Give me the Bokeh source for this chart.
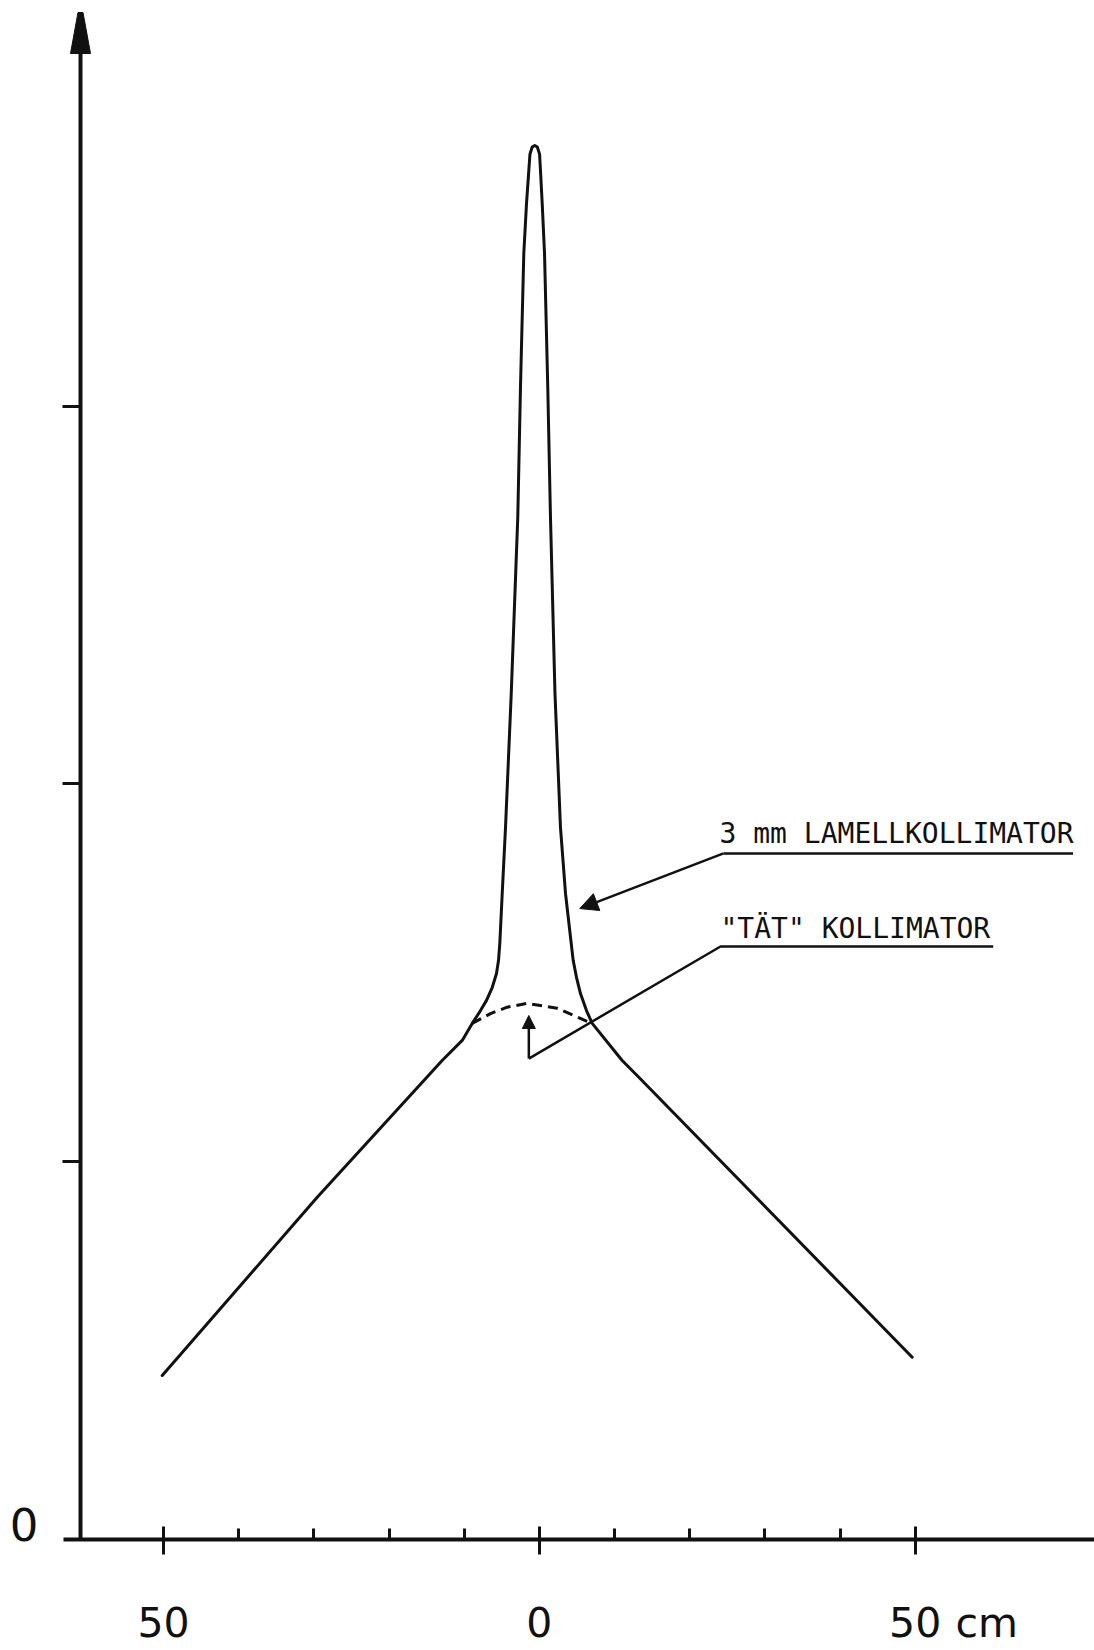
from bokeh.plotting import figure
from bokeh.models import FixedTicker, Label, Arrow, NormalHead, Range1d
from bokeh.embed import file_html
from bokeh.resources import INLINE

# ---- data (x in cm, y in axis units) ----
lamell_x = [-50.17, -29.55, -12.93, -10.26, -8.93, -7.83, -7.03, -6.27, -5.70, -5.43,
            -5.26, -4.94, -4.50, -3.74, -2.87, -2.51, -2.07, -1.71, -1.40, -1.25,
            -0.95, -0.61, -0.27, 0.03, 0.15, 0.38, 0.69, 1.12, 1.48, 2.08,
            2.81, 3.48, 4.50, 4.94, 5.47, 6.27, 7.03, 11.02, 13.46, 49.60]
lamell_y = [0.434, 0.906, 1.268, 1.321, 1.366, 1.400, 1.427, 1.461, 1.498, 1.533,
            1.578, 1.710, 1.885, 2.239, 2.706, 3.050, 3.403, 3.536, 3.624, 3.667,
            3.686, 3.690, 3.686, 3.667, 3.624, 3.536, 3.403, 3.050, 2.706, 2.239,
            1.885, 1.710, 1.533, 1.488, 1.445, 1.400, 1.366, 1.268, 1.219, 0.4825]

tat_x = [-8.93, -6.50, -4.28, -1.62, 2.37, 5.03, 7.03]
tat_y = [1.366, 1.392, 1.409, 1.419, 1.406, 1.383, 1.366]

x_ticks = [-50, 0, 50]
x_tick_labels = ["50", "0", "50"]
x_minor_ticks = [-40, -30, -20, -10, 10, 20, 30, 40]
x_unit_label = "cm"
y_ticks = [1, 2, 3]
y_zero_label = "0"
label_lamell = "3 mm LAMELLKOLLIMATOR"
label_tat = '"TÄT" KOLLIMATOR'

INK = "#111111"
W, H = 1094, 1650
PX_PER_CM = 7.517
PX_PER_UNIT = 377.8
X0_PX, Y0_PX = 538.85, 1539.0

x_lo = (0 - X0_PX) / PX_PER_CM
x_hi = (W - X0_PX) / PX_PER_CM
y_lo = (Y0_PX - H) / PX_PER_UNIT
y_hi = Y0_PX / PX_PER_UNIT

p = figure(width=W, height=H,
           x_range=Range1d(x_lo, x_hi), y_range=Range1d(y_lo, y_hi),
           output_backend="svg", toolbar_location=None,
           min_border_left=0, min_border_right=0,
           min_border_top=0, min_border_bottom=0)
p.xgrid.visible = False
p.ygrid.visible = False
p.outline_line_color = None
p.background_fill_color = "white"
p.border_fill_color = "white"

Y_AXIS_X = (80 - X0_PX) / PX_PER_CM
Y_AXIS_TOP = (Y0_PX - 12) / PX_PER_UNIT

# x axis
xa = p.xaxis[0]
xa.fixed_location = 0
xa.bounds = ((63 - X0_PX) / PX_PER_CM, x_hi)
xa.ticker = FixedTicker(ticks=x_ticks, minor_ticks=x_minor_ticks)
xa.major_label_overrides = {t: l for t, l in zip(x_ticks, x_tick_labels)}
xa.axis_line_width = 4
xa.axis_line_color = INK
xa.major_tick_line_width = 3
xa.major_tick_line_color = INK
xa.major_tick_out = 15
xa.major_tick_in = 13
xa.minor_tick_line_width = 3
xa.minor_tick_line_color = INK
xa.minor_tick_in = 11
xa.minor_tick_out = 0
xa.major_label_text_font = "DejaVu Sans"
xa.major_label_text_font_size = "41px"
xa.major_label_text_color = INK
xa.major_label_standoff = 52

# y axis
ya = p.yaxis[0]
ya.fixed_location = Y_AXIS_X
ya.bounds = (0, Y_AXIS_TOP)
ya.ticker = FixedTicker(ticks=y_ticks)
ya.major_label_overrides = {t: "" for t in y_ticks}
ya.axis_line_width = 4
ya.axis_line_color = INK
ya.major_tick_line_width = 3
ya.major_tick_line_color = INK
ya.major_tick_out = 18
ya.major_tick_in = 0
ya.minor_tick_in = 0
ya.minor_tick_out = 0

# y-axis arrow head (pixel sizes converted to data units)
hw_tip, hw_base, h_len = 2.5 / PX_PER_CM, 10 / PX_PER_CM, 41 / PX_PER_UNIT
p.patch([Y_AXIS_X - hw_tip, Y_AXIS_X + hw_tip, Y_AXIS_X + hw_base, Y_AXIS_X - hw_base],
        [Y_AXIS_TOP, Y_AXIS_TOP, Y_AXIS_TOP - h_len, Y_AXIS_TOP - h_len],
        color=INK, line_width=1)

# curves
p.line(lamell_x, lamell_y, line_width=3, line_color=INK, line_join="round", line_cap="round")
p.line(tat_x, tat_y, line_width=3, line_color=INK, line_dash="10 6")


def shift(font_px):
    # compensation for label baseline placement, in data units
    return 0.35 * font_px / PX_PER_UNIT


# annotation: 3 mm Lamellkollimator
p.segment(x0=[24.50], y0=[1.816], x1=[71.0], y1=[1.816], line_width=2.5, line_color=INK)
p.add_layout(Arrow(end=NormalHead(size=18, fill_color=INK, line_color=INK, line_width=1),
                   x_start=24.50, y_start=1.816, x_end=5.38, y_end=1.670,
                   line_width=2.5, line_color=INK))
p.add_layout(Label(x=23.97, y=1.842 + shift(28), text=label_lamell, text_font="DejaVu Sans Mono",
                   text_font_size="28px", text_color=INK,
                   text_align="left", text_baseline="alphabetic"))

# annotation: "TÄT" kollimator
p.line([60.38, 24.10, -1.40], [1.5696, 1.5696, 1.273], line_width=2.5, line_color=INK)
p.add_layout(Arrow(end=NormalHead(size=13, fill_color=INK, line_color=INK, line_width=1),
                   x_start=-1.40, y_start=1.273, x_end=-1.40, y_end=1.387,
                   line_width=2.5, line_color=INK))
p.add_layout(Label(x=24.10, y=1.591 + shift(28), text=label_tat, text_font="DejaVu Sans Mono",
                   text_font_size="28px", text_color=INK,
                   text_align="left", text_baseline="alphabetic"))

# y zero label and unit label
p.add_layout(Label(x=(38 - X0_PX) / PX_PER_CM, y=(Y0_PX - 1540) / PX_PER_UNIT + shift(45),
                   text=y_zero_label, text_font="DejaVu Sans",
                   text_font_size="45px", text_color=INK,
                   text_align="right", text_baseline="alphabetic"))
p.add_layout(Label(x=(955 - X0_PX) / PX_PER_CM, y=(Y0_PX - 1637) / PX_PER_UNIT + shift(41),
                   text=x_unit_label, text_font="DejaVu Sans",
                   text_font_size="41px", text_color=INK,
                   text_align="left", text_baseline="alphabetic"))

open("out.html", "w").write(file_html(p, INLINE))
